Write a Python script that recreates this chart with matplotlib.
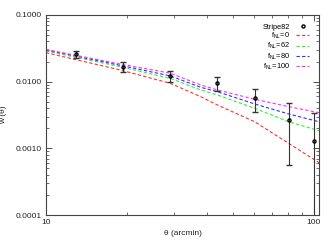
import matplotlib
matplotlib.use('Agg')
import matplotlib.pyplot as plt
from matplotlib.ticker import FormatStrFormatter, LogLocator, NullFormatter
import numpy as np

plt.rcParams['font.family'] = ['Liberation Sans', 'DejaVu Sans']
plt.rcParams['mathtext.fontset'] = 'custom'
plt.rcParams['mathtext.rm'] = 'Liberation Sans'
plt.rcParams['mathtext.it'] = 'Liberation Sans:italic'

# Stripe82 measurements
theta_obs = [12.9, 19.4, 29.1, 43.6, 60.1, 80.5, 100.0]
w_obs = [0.0260, 0.0168, 0.0122, 0.00946, 0.00564, 0.00267, 0.00130]
w_err = [0.0030, 0.0027, 0.0024, 0.0021, 0.0021, 0.0021, 0.0021]

# model curves
theta_model = [10, 18.9, 29.1, 37.8, 43.6, 60.1, 80.5, 104.5]
w_fnl0 = [0.0272, 0.0150, 0.00946, 0.00596, 0.00448, 0.00251, 0.00119, 0.000611]
w_fnl62 = [0.0288, 0.0168, 0.0112, 0.00752, 0.00632, 0.00399, 0.00251, 0.00184]
w_fnl80 = [0.0299, 0.0176, 0.0122, 0.00824, 0.00708, 0.00463, 0.00328, 0.00251]
w_fnl100 = [0.0304, 0.0184, 0.0134, 0.00893, 0.00752, 0.00545, 0.00422, 0.00343]

models = [(w_fnl0, '#ff3030', r'f$_{\rm NL}$=0'),
          (w_fnl62, '#30f030', r'f$_{\rm NL}$=62'),
          (w_fnl80, '#3030ff', r'f$_{\rm NL}$=80'),
          (w_fnl100, '#ff30ff', r'f$_{\rm NL}$=100')]

fig = plt.figure(figsize=(3.33, 2.45), dpi=100)
ax = fig.add_axes([0.138, 0.122, 0.82, 0.817])
ax.set_xscale('log')
ax.set_yscale('log')

# lower error limits clipped below the axis
w_obs = np.array(w_obs)
w_err = np.array(w_err)
lower = np.minimum(w_err, w_obs - 1e-6)
eb = ax.errorbar(theta_obs, w_obs, yerr=[lower, w_err], fmt='o', ms=2.2,
                 mfc='none', mec='black', mew=1.0, ecolor='#333333',
                 elinewidth=0.8, capsize=2.5, capthick=0.8, zorder=5)

handles = [eb.lines[0]]
labels = ['Stripe82']
for w, c, lab in models:
    ln, = ax.plot(theta_model, w, ls=(0, (3, 2)), color=c, lw=0.8)
    handles.append(ln)
    labels.append(lab)

ax.set_xlim(10, 104.5)
ax.set_ylim(0.0001, 0.1)

ax.yaxis.set_major_formatter(FormatStrFormatter('%.4f'))
ax.xaxis.set_major_formatter(FormatStrFormatter('%d'))
ax.xaxis.set_minor_formatter(NullFormatter())
ax.yaxis.set_minor_locator(LogLocator(subs=np.arange(2, 10)))
ax.yaxis.set_minor_formatter(NullFormatter())

ax.tick_params(which='both', direction='in', top=True, right=True,
               labelsize=6, colors='#333333', labelcolor='#222222')
ax.tick_params(which='major', length=4, width=0.6, pad=3)
ax.tick_params(which='minor', length=2, width=0.5)
for s in ax.spines.values():
    s.set_color('#444444')
    s.set_linewidth(0.8)

ax.set_xlabel(r'θ (arcmin)', fontsize=6, labelpad=3, color='#222222')
ax.set_ylabel(r'w (θ)', fontsize=6, labelpad=6, color='#222222')

leg = ax.legend(handles, labels, loc='upper right', frameon=False,
                markerfirst=False, fontsize=5.3, handlelength=1.8,
                labelspacing=0.0, handletextpad=0.8, borderaxespad=0,
                bbox_to_anchor=(0.975, 0.97))

fig.savefig('out.png', dpi=100)
